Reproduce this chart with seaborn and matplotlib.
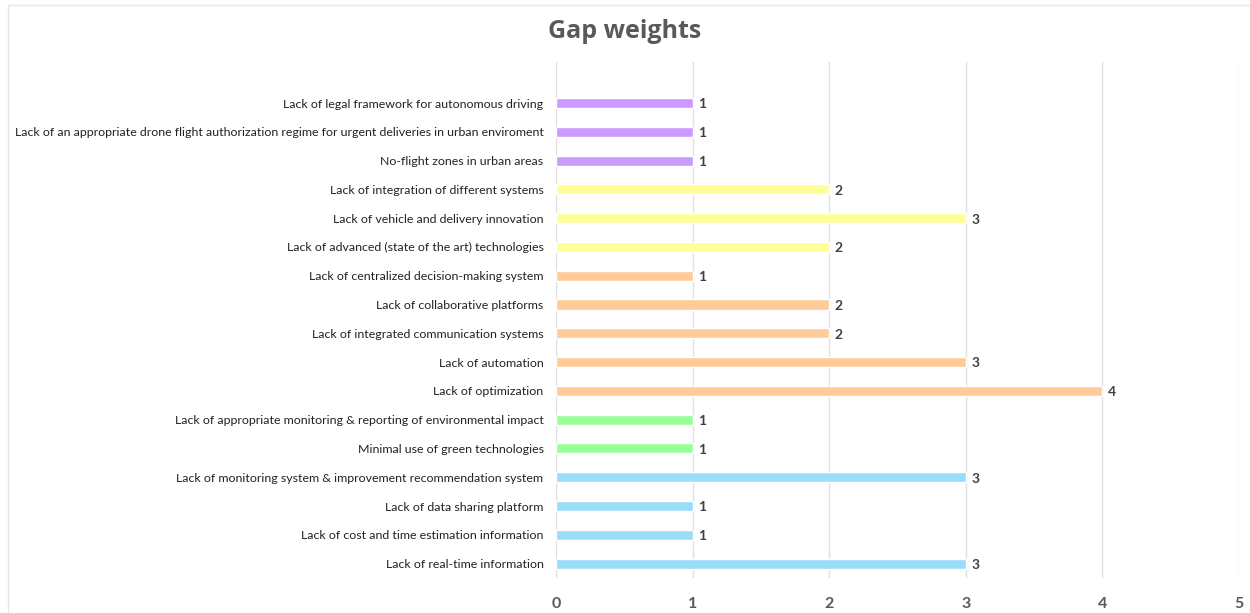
import matplotlib
matplotlib.use("Agg")
import matplotlib.pyplot as plt
import seaborn as sns
import pandas as pd
from matplotlib.patches import Rectangle

categories = [
    "Lack of legal framework for autonomous driving",
    "Lack of an appropriate drone flight authorization regime for urgent deliveries in urban enviroment",
    "No-flight zones in urban areas",
    "Lack of integration of different systems",
    "Lack of vehicle and delivery innovation",
    "Lack of advanced (state of the art) technologies",
    "Lack of centralized decision-making system",
    "Lack of collaborative platforms",
    "Lack of integrated communication systems",
    "Lack of automation",
    "Lack of optimization",
    "Lack of appropriate monitoring & reporting of environmental impact",
    "Minimal use of green technologies",
    "Lack of monitoring system & improvement recommendation system",
    "Lack of data sharing platform",
    "Lack of cost and time estimation information",
    "Lack of real-time information",
]
weights = [1, 1, 1, 2, 3, 2, 1, 2, 2, 3, 4, 1, 1, 3, 1, 1, 3]
groups = ["regulatory"] * 3 + ["technology"] * 3 + ["operations"] * 5 + \
         ["environment"] * 2 + ["information"] * 4
group_colors = {
    "regulatory": "#CC99FF",
    "technology": "#FFFF99",
    "operations": "#FFCC99",
    "environment": "#99FF99",
    "information": "#99DDF8",
}
x_ticks = [0, 1, 2, 3, 4, 5]

df = pd.DataFrame({"gap": categories, "weight": weights, "group": groups})
palette = {c: group_colors[g] for c, g in zip(categories, groups)}

sns.set_theme(style="white")
plt.rcParams["font.family"] = ["Lato", "DejaVu Sans"]

fig = plt.figure(figsize=(12.5, 6.13), dpi=100)
ax = fig.add_axes([0.4448, 0.0571, 0.5464, 0.842])

sns.barplot(data=df, x="weight", y="gap", hue="gap", palette=palette,
            order=categories, hue_order=categories, width=0.35,
            legend=False, dodge=False, ax=ax, saturation=1)

for i, v in enumerate(weights):
    ax.annotate(str(v), xy=(v, i), xytext=(4, -1), textcoords="offset points",
                va="center", ha="left", fontsize=10, fontweight="bold",
                color="#404040")

ax.set_xlim(0, 5)
ax.set_ylim(len(categories) - 0.5, -1.43)
ax.set_xticks(x_ticks)
ax.set_xticklabels([str(t) for t in x_ticks], fontsize=11.5,
                   fontweight="bold", color="#595959")
ax.tick_params(axis="x", length=0, pad=14)
ax.tick_params(axis="y", length=0, pad=9, labelsize=8.9, labelcolor="#222222")
ax.set_xlabel("")
ax.set_ylabel("")
ax.xaxis.grid(True, color="#E0E0E0", linewidth=1)
ax.set_axisbelow(True)
for s in ax.spines.values():
    s.set_visible(False)

fig.text(0.5, 0.948, "Gap weights", ha="center", va="center",
         fontsize=18, fontweight="bold", color="#595959",
         family=["Open Sans", "DejaVu Sans"])

fig.patches.append(Rectangle((0.0064, -0.01), 1.2, 1.002, transform=fig.transFigure,
                             fill=False, edgecolor="#E6E6E6", linewidth=1))

fig.savefig("out.png", dpi=100)
